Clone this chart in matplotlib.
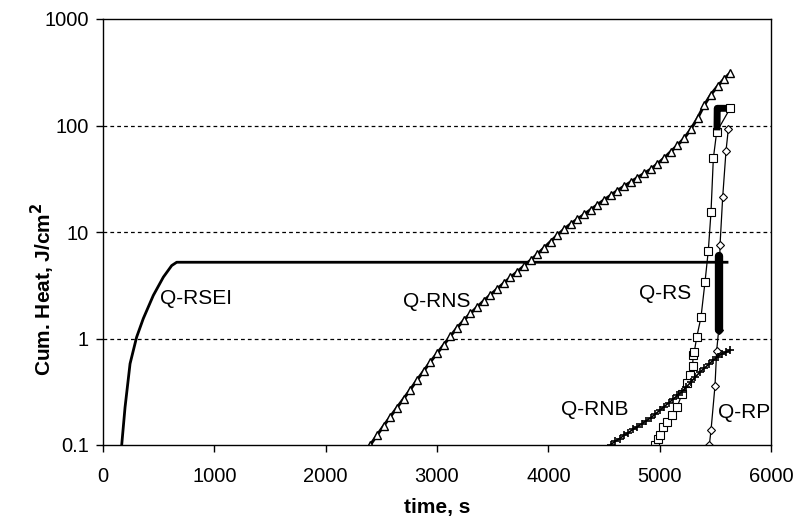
import matplotlib
matplotlib.use("Agg")
import matplotlib.pyplot as plt

plt.rcParams["font.family"] = ["Liberation Sans", "DejaVu Sans"]

# Q-RSEI (solid line)
rsei_t = [168, 198, 243, 302, 362, 452, 542, 617, 662, 5605]
rsei_q = [0.1, 0.226, 0.58, 1.03, 1.54, 2.54, 3.77, 4.84, 5.2, 5.2]

# Q-RNS (triangles)
rns_t = [2400, 2460, 2520, 2580, 2640, 2700, 2760, 2820, 2880, 2940,
         3000, 3060, 3120, 3180, 3240, 3300, 3360, 3420, 3480, 3540,
         3600, 3660, 3720, 3780, 3840, 3900, 3960, 4020, 4080, 4140,
         4200, 4260, 4320, 4380, 4440, 4500, 4560, 4620, 4680, 4740,
         4800, 4860, 4920, 4980, 5040, 5100, 5160, 5220, 5280, 5340,
         5400, 5460, 5520, 5580, 5630]
rns_q = [0.100, 0.123, 0.151, 0.184, 0.224, 0.272, 0.331, 0.407, 0.495, 0.603,
         0.724, 0.871, 1.05, 1.26, 1.48, 1.72, 1.97, 2.26, 2.57, 2.92,
         3.31, 3.76, 4.22, 4.79, 5.43, 6.17, 7.08, 8.13, 9.33, 10.6,
         11.9, 13.2, 14.6, 16.2, 18.0, 20.0, 22.1, 24.5, 26.9, 29.5,
         32.4, 35.5, 38.9, 43.7, 49.5, 56.9, 65.3, 75.9, 92.3, 117,
         155, 195, 234, 275, 309]

# Q-RS (squares)
rs_t = [4958, 4985, 5003, 5030, 5070, 5111, 5155, 5200, 5245, 5272,
        5295, 5302, 5310, 5333, 5371, 5407, 5437, 5461, 5482, 5512, 5633]
rs_q = [0.10, 0.115, 0.123, 0.146, 0.165, 0.19, 0.225, 0.30, 0.38, 0.45,
        0.55, 0.70, 0.74, 1.03, 1.58, 3.38, 6.7, 15.3, 49, 87, 145]
rs_band_t = [5515, 5517, 5525, 5600]
rs_band_q = [90, 145, 145, 145]

# Q-RP (diamonds)
rp_t = [5446, 5461, 5497, 5512, 5530, 5542, 5566, 5596, 5617]
rp_q = [0.1, 0.137, 0.36, 0.77, 1.2, 7.5, 21.2, 58, 93]
rp_band_t = [5530, 5530]
rp_band_q = [1.2, 6.0]

# Q-RNB (crosses)
rnb_t = [4560, 4600, 4640, 4680, 4720, 4760, 4800, 4840, 4880, 4920,
         4960, 5000, 5040, 5080, 5120, 5160, 5200, 5240, 5280, 5320,
         5360, 5400, 5440, 5480, 5520, 5560, 5600, 5635]
rnb_q = [0.101, 0.108, 0.115, 0.123, 0.131, 0.140, 0.149, 0.158, 0.169, 0.180,
         0.195, 0.211, 0.229, 0.248, 0.269, 0.292, 0.316, 0.351, 0.389, 0.435,
         0.481, 0.525, 0.571, 0.624, 0.676, 0.716, 0.750, 0.776]

W, H = 795, 517
fig = plt.figure(figsize=(W / 100, H / 100), dpi=100)
ax = fig.add_axes([103 / W, 1 - 445 / H, (771 - 103) / W, (445 - 19) / H])

ax.plot(rsei_t, rsei_q, color="black", lw=2)
ax.plot(rns_t, rns_q, color="black", lw=2.2, marker="^", ms=6,
        mfc="white", mec="black", mew=1.0)
ax.plot(rs_t, rs_q, color="black", lw=0.9, marker="s", ms=6,
        mfc="white", mec="black", mew=0.8)
ax.plot(rs_band_t, rs_band_q, color="black", lw=5, solid_capstyle="butt")
ax.plot(rp_t, rp_q, color="black", lw=0.9, marker="D", ms=4.5,
        mfc="white", mec="black", mew=0.8)
ax.plot(rp_band_t, rp_band_q, color="black", lw=6, solid_capstyle="round")
ax.plot(rnb_t, rnb_q, color="black", lw=1.2, marker="+", ms=6, mew=1.2)

ax.set_yscale("log")
ax.set_xlim(0, 6000)
ax.set_ylim(0.1, 1000)
ax.set_xticks([0, 1000, 2000, 3000, 4000, 5000, 6000])
ax.set_yticks([0.1, 1, 10, 100, 1000])
ax.set_yticklabels(["0.1", "1", "10", "100", "1000"])
ax.minorticks_off()
ax.tick_params(axis="both", direction="out", length=5, width=1, labelsize=14.5)
ax.tick_params(axis="x", pad=11)
ax.tick_params(axis="y", pad=5)
for v in [1, 10, 100]:
    ax.axhline(v, color="black", lw=0.9, ls=(0, (3, 2.5)), zorder=0)
for s in ax.spines.values():
    s.set_linewidth(1)

ax.text(835, 2.38, "Q-RSEI", fontsize=15, ha="center", va="center")
ax.text(3000, 2.22, "Q-RNS", fontsize=15, ha="center", va="center")
ax.text(5048, 2.64, "Q-RS", fontsize=15, ha="center", va="center")
ax.text(4419, 0.215, "Q-RNB", fontsize=15, ha="center", va="center")
ax.text(5758, 0.20, "Q-RP", fontsize=15, ha="center", va="center")

fig.text(437 / W, 1 - 507 / H, "time, s", fontsize=15, fontweight="bold",
         ha="center", va="center")
fig.text(43 / W, 1 - 289 / H, r"Cum. Heat, J/cm$^\mathbf{2}$", fontsize=15,
         fontweight="bold", rotation=90, ha="center", va="center")

fig.savefig("out.png", dpi=100)
